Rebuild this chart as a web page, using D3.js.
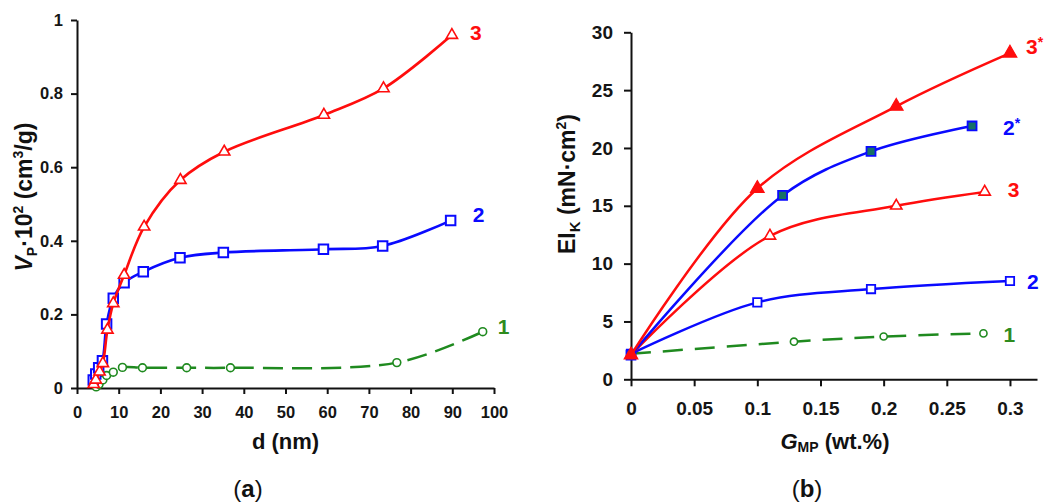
<!DOCTYPE html>
<html><head><meta charset="utf-8">
<script src="https://cdn.jsdelivr.net/npm/d3@7"></script>
<style>
body{margin:0;background:#fff}
text{font-family:"Liberation Sans",Arial,sans-serif}
</style>
</head><body>
<svg id="c" width="1047" height="502"></svg>
<script>
// ---------- Panel (a) data ----------
const aXTicks=[0,10,20,30,40,50,60,70,80,90,100];
const aYTicks=[0,0.2,0.4,0.6,0.8,1];
const a1D=[4.6,5.3,6.2,7.1,8.7,10.9,15.7,26.3,36.8,76.7,97.3];
const a1V=[0.003,0.01,0.022,0.034,0.043,0.056,0.055,0.055,0.055,0.069,0.153];
const a2D=[3.9,4.5,5.2,6.1,7.1,8.7,11.3,15.9,24.7,35.1,59.1,73.3,89.6];
const a2V=[0.022,0.038,0.055,0.074,0.174,0.244,0.286,0.316,0.354,0.368,0.377,0.386,0.455];
const a3D=[4.0,4.5,5.4,6.2,7.3,8.7,11.3,16.1,24.8,35.3,59.2,73.5,89.9];
const a3V=[0.01,0.022,0.044,0.067,0.158,0.23,0.307,0.438,0.565,0.642,0.742,0.814,0.959];
// ---------- Panel (b) data ----------
const bXTicks=[0,0.05,0.1,0.15,0.2,0.25,0.3];
const bYTicks=[0,5,10,15,20,25,30];
const b1G=[0,0.129,0.2,0.279],  b1E=[2.2,3.25,3.7,3.97];
const b2G=[0,0.1,0.19,0.3],     b2E=[2.2,6.65,7.8,8.5];
const b3G=[0,0.11,0.21,0.28],   b3E=[2.1,12.4,15.0,16.2];
const b2sG=[0,0.12,0.19,0.27],  b2sE=[2.1,15.9,19.7,21.9];
const b3sG=[0,0.1,0.21,0.3],    b3sE=[2.1,16.5,23.6,28.2];

const RED="#ff0d0d", BLUE="#0a0aff", GREEN="#1f8a1f", TEAL="#177066";
const svg=d3.select("#c");

// ---------- scales ----------
const ax=d3.scaleLinear().domain([0,100]).range([77,494]);
const ay=d3.scaleLinear().domain([0,1]).range([388,20]);
const bXMax=0.3214;
const bx=d3.scaleLinear().domain([0,bXMax]).range([631,1037]);
const by=d3.scaleLinear().domain([0,30]).range([379.3,32.3]);

function styleAxis(g,fs){
  g.select(".domain").attr("stroke","#111").attr("stroke-width",2);
  g.selectAll(".tick line").attr("stroke","#111").attr("stroke-width",2);
  g.selectAll(".tick text").attr("fill","#151515").attr("font-size",fs).attr("font-weight","bold")
   .attr("font-family","'Liberation Sans',Arial,sans-serif");
}
// panel a axes
const gax=svg.append("g").attr("transform",`translate(0,${ay(0)})`)
  .call(d3.axisBottom(ax).tickValues(aXTicks).tickSize(6).tickPadding(12).tickSizeOuter(0).tickFormat(d3.format("d")));
styleAxis(gax,16.5);
const gay=svg.append("g").attr("transform",`translate(${ax(0)},0)`)
  .call(d3.axisLeft(ay).tickValues(aYTicks).tickSize(6).tickPadding(8).tickSizeOuter(0).tickFormat(d=>d===0||d===1?d:d3.format(".1f")(d)));
styleAxis(gay,16.5);
// panel b axes
const gbx=svg.append("g").attr("transform",`translate(0,${by(0)})`)
  .call(d3.axisBottom(bx).tickValues(bXTicks).tickSize(7).tickPadding(15).tickSizeOuter(0).tickFormat(d=>d===0?"0":String(+d.toFixed(2))));
styleAxis(gbx,19);
const gby=svg.append("g").attr("transform",`translate(${bx(0)},0)`)
  .call(d3.axisLeft(by).tickValues(bYTicks).tickSize(7).tickPadding(11).tickSizeOuter(0));
styleAxis(gby,19);

// ---------- series drawing ----------
function series(xs,ys,sx,sy,o){
  const pts=xs.map((x,i)=>[sx(x),sy(ys[i])]);
  const line=d3.line().curve(d3.curveCatmullRom.alpha(0.5));
  svg.append("path").attr("d",line(pts)).attr("fill","none").attr("stroke",o.color)
    .attr("stroke-width",o.lw||2.5).attr("stroke-dasharray",o.dash||null).attr("stroke-linejoin","round");
  const sym=d3.symbol().type(o.type).size(o.size);
  svg.append("g").selectAll("path").data(pts).join("path")
    .attr("transform",d=>`translate(${d[0]},${d[1]})`)
    .attr("d",sym()).attr("fill",o.fill).attr("stroke",o.color).attr("stroke-width",o.sw||2);
  return pts;
}
// panel a
const pa1=series(a1D,a1V,ax,ay,{color:GREEN,dash:"20,9",type:d3.symbolCircle,size:48,fill:"#fff",lw:2.5,sw:1.6});
const pa2=series(a2D,a2V,ax,ay,{color:BLUE,type:d3.symbolSquare,size:90,fill:"#fff",lw:2.6});
const pa3=series(a3D,a3V,ax,ay,{color:RED,type:d3.symbolTriangle,size:55,fill:"#fff",lw:2.6,sw:1.6});
// panel b
const pb1=series(b1G,b1E,bx,by,{color:GREEN,dash:"20,12",type:d3.symbolCircle,size:40,fill:"#fff",lw:2.5,sw:1.6});
const pb2=series(b2G,b2E,bx,by,{color:BLUE,type:d3.symbolSquare,size:70,fill:"#fff",lw:2.5,sw:1.8});
const pb3=series(b3G,b3E,bx,by,{color:RED,type:d3.symbolTriangle,size:55,fill:"#fff",lw:2.5,sw:1.6});
const pb2s=series(b2sG,b2sE,bx,by,{color:BLUE,type:d3.symbolSquare,size:80,fill:TEAL,lw:2.5,sw:1.8});
const pb3s=series(b3sG,b3sE,bx,by,{color:RED,type:d3.symbolTriangle,size:80,fill:RED,lw:2.5,sw:1.2});

// ---------- curve labels ----------
function lab(pts,txt,color,dx,dy,star){
  const p=pts[pts.length-1];
  const t=svg.append("text").attr("x",p[0]+dx).attr("y",p[1]+dy).attr("dy","0.36em")
    .attr("fill",color).attr("font-size",21).attr("font-weight","bold").text(txt);
  if(star) t.append("tspan").attr("font-size",14).attr("dy","-0.5em").text("*");
}
lab(pa3,"3",RED,18,-3);
lab(pa2,"2",BLUE,22,-6);
lab(pa1,"1","#2e8b1e",15,-5);
lab(pb3s,"3",RED,16,-7,true);
lab(pb2s,"2",BLUE,31,1.5,true);
lab(pb3,"3",RED,23,-2);
lab(pb2,"2",BLUE,17,0.5);
lab(pb1,"1","#2e8b1e",20,1);

// ---------- axis titles ----------
const yta=svg.append("text").attr("transform","translate(32,197) rotate(-90)").attr("text-anchor","middle")
  .attr("font-size",23).attr("font-weight","bold").attr("fill","#111");
yta.append("tspan").attr("font-style","italic").text("V");
yta.append("tspan").attr("font-size",14).attr("dy",5).text("P");
yta.append("tspan").attr("dy",-5).text("·10");
yta.append("tspan").attr("font-size",14).attr("dy",-9).text("2");
yta.append("tspan").attr("dy",9).text("\u00a0(cm");
yta.append("tspan").attr("font-size",14).attr("dy",-9).text("3");
yta.append("tspan").attr("dy",9).text("/g)");

svg.append("text").attr("x",(ax(0)+ax(100))/2).attr("y",441).attr("dy","0.36em").attr("text-anchor","middle")
  .attr("font-size",22).attr("font-weight","bold").attr("fill","#111").text("d (nm)");

const ytb=svg.append("text").attr("transform","translate(575,184) rotate(-90)").attr("text-anchor","middle")
  .attr("font-size",23).attr("font-weight","bold").attr("fill","#111");
ytb.append("tspan").text("EI");
ytb.append("tspan").attr("font-size",15).attr("dy",5).text("K");
ytb.append("tspan").attr("dy",-5).text("\u00a0(mN·cm");
ytb.append("tspan").attr("font-size",14).attr("dy",-9).text("2");
ytb.append("tspan").attr("dy",9).text(")");

const xtb=svg.append("text").attr("x",835).attr("y",441).attr("dy","0.36em").attr("text-anchor","middle")
  .attr("font-size",22).attr("font-weight","bold").attr("fill","#111");
xtb.append("tspan").attr("font-style","italic").text("G");
xtb.append("tspan").attr("font-size",14).attr("dy",3).text("MP");
xtb.append("tspan").attr("dy",-3).text("\u00a0(wt.%)");

// panel letters
function letter(x,ch){
  const t=svg.append("text").attr("x",x).attr("y",488).attr("dy","0.36em").attr("text-anchor","middle")
    .attr("font-family","'Liberation Serif','Times New Roman',serif").attr("font-size",24).attr("fill","#111");
  t.append("tspan").text("(");
  t.append("tspan").attr("font-weight","bold").text(ch);
  t.append("tspan").text(")");
}
letter(248,"a");
letter(807,"b");
</script>
</body></html>
